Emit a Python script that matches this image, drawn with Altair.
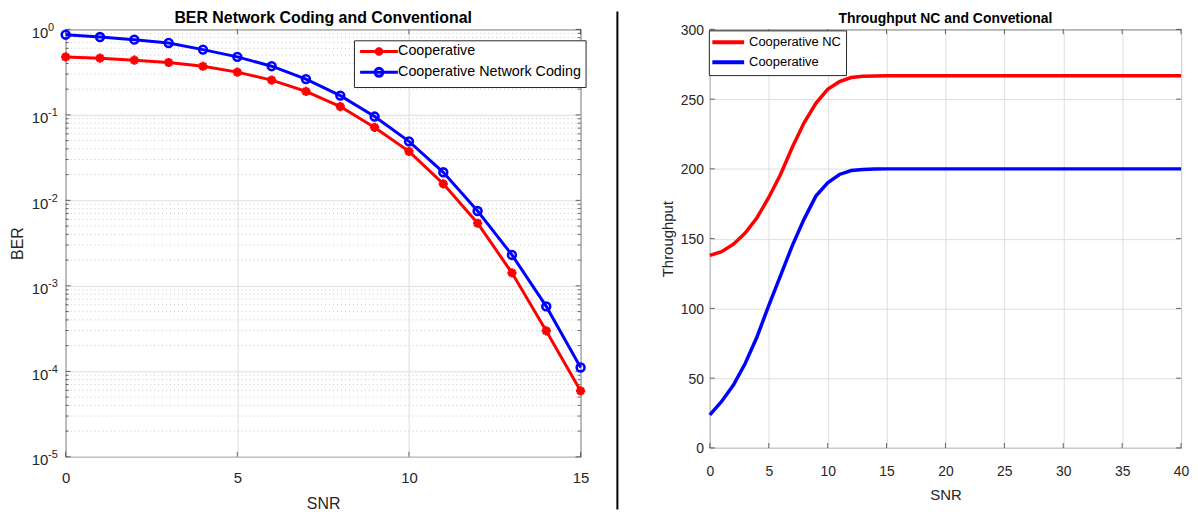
import altair as alt
import pandas as pd

# ---------------- data ----------------
snr_ber = [0, 1, 2, 3, 4, 5, 6, 7, 8, 9, 10, 11, 12, 13, 14, 15]
ber_coop = [0.476, 0.46, 0.436, 0.41, 0.37, 0.316, 0.255, 0.188, 0.125, 0.0713,
            0.0374, 0.0156, 0.0054, 0.00142, 0.000297, 0.000059]
ber_nc = [0.867, 0.814, 0.758, 0.693, 0.58, 0.477, 0.371, 0.262, 0.168, 0.0955,
          0.049, 0.0213, 0.0075, 0.0023, 0.000575, 0.000111]
ber_series = ["Cooperative", "Cooperative Network Coding"]

snr_tp = list(range(0, 41))
tp_nc = [138, 140.6, 146, 154, 165, 179.5, 196, 215.5, 233, 247, 257, 262.5, 265.5,
         266.4, 266.6, 266.7, 266.7, 266.7, 266.7, 266.7, 266.7, 266.7, 266.7, 266.7,
         266.7, 266.7, 266.7, 266.7, 266.7, 266.7, 266.7, 266.7, 266.7, 266.7, 266.7,
         266.7, 266.7, 266.7, 266.7, 266.7, 266.7]
tp_coop = [23.7, 33.3, 45, 60.5, 79.5, 102, 123.5, 145, 164, 180.5, 190, 196, 198.8,
           199.6, 199.9, 200, 200, 200, 200, 200, 200, 200, 200, 200, 200, 200, 200,
           200, 200, 200, 200, 200, 200, 200, 200, 200, 200, 200, 200, 200, 200]
tp_series = ["Cooperative NC", "Cooperative"]

# axis structure
ber_major = [1e-5, 1e-4, 1e-3, 1e-2, 1e-1, 1.0]
ber_exp = ["-5", "-4", "-3", "-2", "-1", "0"]
ber_minor = [m * 10.0 ** e for e in range(-5, 0) for m in range(2, 10)]
ber_xticks = [0, 5, 10, 15]
tp_xticks = [0, 5, 10, 15, 20, 25, 30, 35, 40]
tp_yticks = [0, 50, 100, 150, 200, 250, 300]

RED = "#ff0000"
BLUE = "#0000ff"
AX = "#262626"
GRID = "#dedede"
MINOR = "#c8c8c8"
FONT = "Liberation Sans"

# ---------------- tables ----------------
df_coop = pd.DataFrame({"snr": snr_ber, "ber": ber_coop, "series": ber_series[0]})
df_nc = pd.DataFrame({"snr": snr_ber, "ber": ber_nc, "series": ber_series[1]})
df_ber = pd.concat([df_coop, df_nc], ignore_index=True)
df_major = pd.DataFrame({"v": ber_major, "e": ber_exp})
df_minor = pd.DataFrame({"v": ber_minor})
df_bx = pd.DataFrame({"v": ber_xticks})

df_tnc = pd.DataFrame({"snr": snr_tp, "tp": tp_nc, "series": tp_series[0]})
df_tco = pd.DataFrame({"snr": snr_tp, "tp": tp_coop, "series": tp_series[1]})
df_tp = pd.concat([df_tnc, df_tco], ignore_index=True)
df_tx = pd.DataFrame({"v": tp_xticks})
df_ty = pd.DataFrame({"v": tp_yticks})
df_one = pd.DataFrame({"a": [0]})

tick_kw = dict(color=AX, thickness=1)

# ---------------- left panel ----------------
W1, H1 = 518, 430
xs1 = alt.Scale(domain=[0, 15], nice=False)
ys1 = alt.Scale(type="log", domain=[1e-5, 1], nice=False)

PATH_COOP = ("M-1,0L6.6,0M2.8,-0.85L2.8,0.85M1.95,0L3.65,0"
             "M2.2,-0.6L3.4,0.6M2.2,0.6L3.4,-0.6")
PATH_NC = "M-1,0L6.6,0M3.6,0A0.8,0.8,0,1,1,2,0A0.8,0.8,0,1,1,3.6,0"
AST = "M-1,0L1,0M0,-1L0,1M-0.7,-0.7L0.7,0.7M-0.7,0.7L0.7,-0.7"

legend1 = alt.Legend(
    title=None, orient="none", legendX=290, legendY=11,
    symbolSize=100, symbolStrokeWidth=3, labelLimit=400,
    labelFontSize=14.4, labelColor="black", labelFont=FONT, labelOffset=26,
    strokeColor=AX, fillColor="white", padding=4, rowPadding=0,
)

xax1 = alt.Axis(values=ber_xticks, title="SNR", grid=True, gridColor=GRID, ticks=False,
                tickSize=0, domain=False, labelFlush=False, labelFontSize=15,
                labelPadding=14, labelColor=AX, titleFontSize=16, titleFontWeight="normal",
                titleColor=AX, titlePadding=10)
yax1 = alt.Axis(values=ber_major, labelExpr="'10'", title="BER", grid=True, gridColor=GRID,
                ticks=False, tickSize=0, domain=False, labelFontSize=15, labelPadding=18,
                labelOffset=3, labelColor=AX, titleFontSize=16, titleFontWeight="normal",
                titleColor=AX, titlePadding=6)


def X1(f):
    return alt.X(f, type="quantitative", scale=xs1, axis=xax1, title="SNR")


def Y1(f):
    return alt.Y(f, type="quantitative", scale=ys1, axis=yax1, title="BER")


def XD1(v):
    return alt.XDatum(v, type="quantitative", scale=xs1, axis=xax1, title="SNR")


def YD1(v):
    return alt.YDatum(v, type="quantitative", scale=ys1, axis=yax1, title="BER")


line_coop = alt.Chart(df_coop).mark_line(strokeWidth=3, color=RED).encode(
    x=X1("snr"), y=Y1("ber"))
line_nc = alt.Chart(df_nc).mark_line(strokeWidth=3, color=BLUE).encode(
    x=X1("snr"), y=Y1("ber"))

# legend-only layer (its rows are filtered out, only the legend is drawn)
leg1 = alt.Chart(df_ber).transform_filter("false").mark_point(
    filled=False, strokeWidth=3, opacity=1).encode(
    x=X1("snr"), y=Y1("ber"),
    color=alt.Color("series:N", scale=alt.Scale(domain=ber_series, range=[RED, BLUE]),
                    legend=legend1),
    shape=alt.Shape("series:N", scale=alt.Scale(domain=ber_series, range=[PATH_COOP, PATH_NC]),
                    legend=legend1),
)

minor1 = alt.Chart(df_minor).mark_rule(color=MINOR, strokeDash=[1, 3], strokeWidth=1).encode(
    y=Y1("v"))

ticks1 = [
    alt.Chart(df_major).mark_tick(orient="horizontal", size=5, xOffset=2.5, **tick_kw).encode(
        x=XD1(0), y=Y1("v")),
    alt.Chart(df_major).mark_tick(orient="horizontal", size=5, xOffset=-2.5, **tick_kw).encode(
        x=XD1(15), y=Y1("v")),
    alt.Chart(df_minor).mark_tick(orient="horizontal", size=3, xOffset=1.5, **tick_kw).encode(
        x=XD1(0), y=Y1("v")),
    alt.Chart(df_minor).mark_tick(orient="horizontal", size=3, xOffset=-1.5, **tick_kw).encode(
        x=XD1(15), y=Y1("v")),
    alt.Chart(df_bx).mark_tick(orient="vertical", size=5, yOffset=-2.5, **tick_kw).encode(
        x=X1("v"), y=YD1(1e-5)),
    alt.Chart(df_bx).mark_tick(orient="vertical", size=5, yOffset=2.5, **tick_kw).encode(
        x=X1("v"), y=YD1(1.0)),
]

pts_coop = alt.Chart(df_coop).mark_point(
    shape=AST, size=85, strokeWidth=2.7, color=RED, filled=False, opacity=1).encode(
    x=X1("snr"), y=Y1("ber"))
pts_nc = alt.Chart(df_nc).mark_point(
    shape="circle", size=62, strokeWidth=2.6, color=BLUE, filled=False, opacity=1).encode(
    x=X1("snr"), y=Y1("ber"))

exps = alt.Chart(df_major).mark_text(
    align="left", baseline="middle", dx=-17.7, dy=-1.5, fontSize=11, color=AX, font=FONT).encode(
    x=XD1(0), y=Y1("v"), text="e:N")

left = alt.layer(minor1, *ticks1, line_coop, line_nc, pts_coop, pts_nc, exps, leg1).properties(
    width=W1, height=H1,
    title=alt.TitleParams("BER Network Coding and Conventional", fontSize=16,
                          fontWeight="bold", color="black", font=FONT, offset=-4,
                          frame="group"),
)

# divider between the two figures
mid = alt.Chart(df_one).mark_rule(color="black", strokeWidth=2).encode(
    x=alt.value(1), y=alt.value(-18), y2=alt.value(483)).properties(
    width=2, height=H1, view=alt.ViewBackground(stroke="transparent"))

# ---------------- right panel ----------------
W2, H2 = 474, 421
xs2 = alt.Scale(domain=[0, 40], nice=False)
ys2 = alt.Scale(domain=[0, 300], nice=False)

PATH_LINE = "M-1.7,0L4.7,0"
legend2 = alt.Legend(
    title=None, orient="none", legendX=-1, legendY=1,
    symbolType=PATH_LINE, symbolSize=100, symbolStrokeWidth=4, labelLimit=400,
    labelFontSize=13, labelColor="black", labelFont=FONT, labelOffset=21.5,
    strokeColor=AX, fillColor="white", padding=5, rowPadding=4,
)

xax2 = alt.Axis(values=tp_xticks, title="SNR", grid=True, gridColor=GRID, ticks=False,
                tickSize=0, domain=False, labelFlush=False, labelFontSize=14,
                labelPadding=17, labelColor=AX, titleFontSize=15, titleFontWeight="normal",
                titleColor=AX, titlePadding=9)
yax2 = alt.Axis(values=tp_yticks, title="Throughput", grid=True, gridColor=GRID,
                ticks=False, tickSize=0, domain=False, labelFontSize=14, labelPadding=6.5,
                labelOffset=1, labelColor=AX, titleFontSize=15, titleFontWeight="normal",
                titleColor=AX, titlePadding=5)


def X2(f):
    return alt.X(f, type="quantitative", scale=xs2, axis=xax2, title="SNR")


def Y2(f):
    return alt.Y(f, type="quantitative", scale=ys2, axis=yax2, title="Throughput")


def XD2(v):
    return alt.XDatum(v, type="quantitative", scale=xs2, axis=xax2, title="SNR")


def YD2(v):
    return alt.YDatum(v, type="quantitative", scale=ys2, axis=yax2, title="Throughput")


line_tnc = alt.Chart(df_tnc).mark_line(strokeWidth=3.5, color=RED).encode(
    x=X2("snr"), y=Y2("tp"))
line_tco = alt.Chart(df_tco).mark_line(strokeWidth=3.5, color=BLUE).encode(
    x=X2("snr"), y=Y2("tp"))
leg2 = alt.Chart(df_tp).transform_filter("false").mark_point(
    filled=False, strokeWidth=4, opacity=1, shape=PATH_LINE).encode(
    x=X2("snr"), y=Y2("tp"),
    color=alt.Color("series:N", scale=alt.Scale(domain=tp_series, range=[RED, BLUE]),
                    legend=legend2),
)

ticks2 = [
    alt.Chart(df_ty).mark_tick(orient="horizontal", size=5, xOffset=2.5, **tick_kw).encode(
        x=XD2(0), y=Y2("v")),
    alt.Chart(df_ty).mark_tick(orient="horizontal", size=5, xOffset=-2.5, **tick_kw).encode(
        x=XD2(40), y=Y2("v")),
    alt.Chart(df_tx).mark_tick(orient="vertical", size=5, yOffset=-2.5, **tick_kw).encode(
        x=X2("v"), y=YD2(0)),
    alt.Chart(df_tx).mark_tick(orient="vertical", size=5, yOffset=2.5, **tick_kw).encode(
        x=X2("v"), y=YD2(300)),
]

right = alt.layer(*ticks2, line_tnc, line_tco, leg2).properties(
    width=W2, height=H2,
    title=alt.TitleParams("Throughput NC and Convetional", fontSize=14,
                          fontWeight="bold", color="black", font=FONT, offset=-3,
                          frame="group"),
)

inner = alt.hconcat(left, mid, spacing=24).resolve_scale(color="independent", shape="independent")
chart = alt.hconcat(inner, right, spacing=40).resolve_scale(
    color="independent", shape="independent").properties(
    padding={"left": 0, "top": 0, "right": 0, "bottom": 0}
).configure(font=FONT).configure_view(stroke=AX, strokeWidth=1)

chart.save("out.html", embed_options={"renderer": "svg", "actions": False})
